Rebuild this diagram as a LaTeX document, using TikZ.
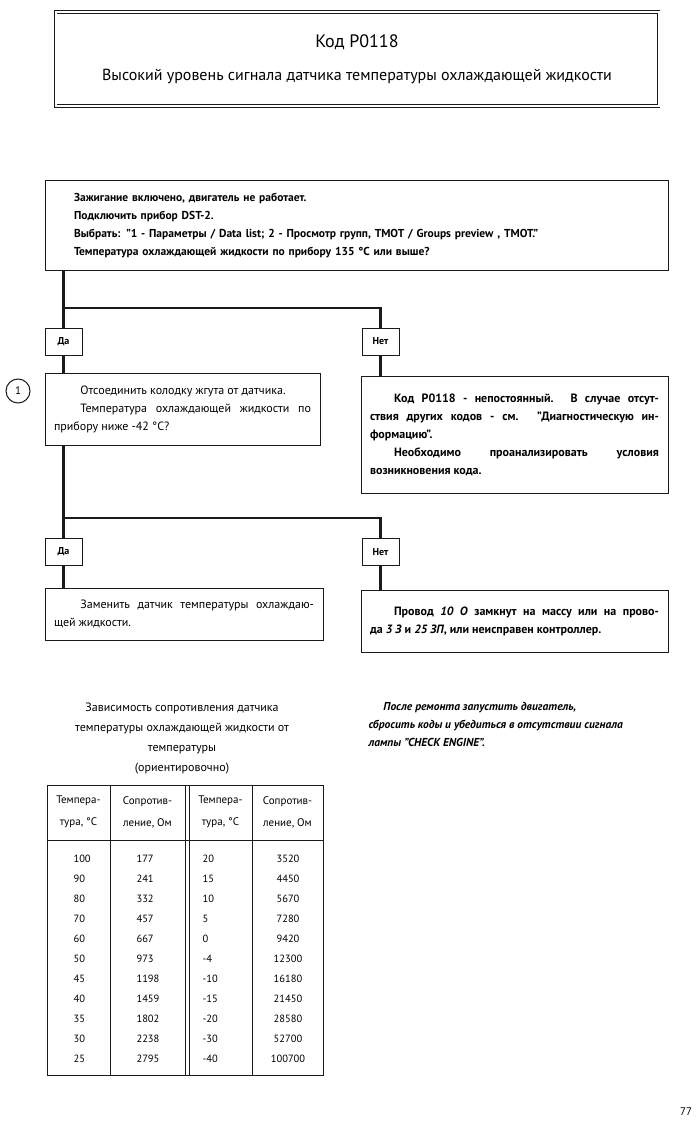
\documentclass[tikz,border=0pt]{standalone}
\usepackage{fontspec}
\setmainfont{PT Sans}
\usetikzlibrary{positioning}
\definecolor{InkBlack}{HTML}{1A1A1A}

\begin{document}
\begin{tikzpicture}[
  x=1pt,y=-1pt,
  stepbox/.style={draw=InkBlack,line width=0.9pt,inner xsep=8pt,inner ysep=0pt,
    align=justify,font=\fontsize{12}{18}\selectfont},
  answer/.style={draw=InkBlack,line width=1pt,minimum width=37pt,minimum height=27pt,
    inner sep=0pt,font=\fontsize{10}{11}\selectfont\bfseries},
  link/.style={line width=2.6pt,color=InkBlack},
  grid/.style={line width=0.8pt,color=InkBlack},
  headcell/.style={align=center,font=\fontsize{11}{22}\selectfont},
  cell/.style={anchor=base west,font=\fontsize{10.5}{12}\selectfont}
]
  \useasboundingbox (0,0) rectangle (699,1126);

  % title frame
  \node[draw=InkBlack,double,double distance=2pt,line width=0.6pt,
    minimum width=603pt,minimum height=94pt,align=center,
    font=\fontsize{16}{33}\selectfont] (title) at (357,59)
    {{\fontsize{18}{18}\selectfont Код P0118}\\Высокий уровень сигнала датчика температуры охлаждающей жидкости};

  \node[stepbox,font=\fontsize{11.5}{18}\selectfont\bfseries,align=left,inner xsep=29pt,
    minimum width=623pt,minimum height=90pt,text width=565pt] (check) at (356.5,225)
    {Зажигание включено, двигатель не работает.\\
     Подключить прибор DST-2.\\
     Выбрать: "1 - Параметры / Data list; 2 - Просмотр групп, TMOT / Groups preview , TMOT."\\
     Температура охлаждающей жидкости по прибору 135 °С или выше?};

  \node[answer] (yes1) at (63.5,341.5) {Да};
  \node[answer] (no1) at (380.5,341.5) {Нет};
  \coordinate (split1) at (63.5,308);

  \node[draw=InkBlack,circle,line width=1pt,minimum size=24pt,inner sep=0pt,
    font=\fontsize{11}{12}\selectfont] (stepone) at (18,391) {1};
  \node[stepbox,minimum width=275pt,minimum height=72pt,text width=257pt] (unplug) at (182.5,409)
    {\hspace*{2.2em}Отсоединить колодку жгута от датчика.\par
     \hspace*{2.2em}Температура охлаждающей жидкости по\linebreak
     прибору ниже -42 °С?};
  \node[stepbox,font=\fontsize{12}{18}\selectfont\bfseries,
    minimum width=307pt,minimum height=117pt,text width=289pt] (sporadic) at (514.5,434.5)
    {\hspace*{2em}Код P0118 - непостоянный. В случае отсут-\linebreak
     ствия других кодов - см. "Диагностическую ин-\linebreak
     формацию".\par
     \hspace*{2em}Необходимо проанализировать условия\linebreak
     возникновения кода.};

  \node[answer] (yes2) at (63.5,552) {Да};
  \node[answer] (no2) at (380.5,552) {Нет};
  \coordinate (split2) at (63.5,518);

  \node[stepbox,minimum width=278pt,minimum height=52pt,text width=260pt] (replace) at (184,614)
    {\hspace*{2.2em}Заменить датчик температуры охлаждаю-\linebreak
     щей жидкости.};
  \node[stepbox,font=\fontsize{12}{18}\selectfont\bfseries,
    minimum width=307pt,minimum height=62pt,text width=289pt] (wiring) at (514.5,621)
    {\hspace*{2em}Провод \textit{10 О} замкнут на массу или на прово-\linebreak
     да \textit{3 З} и \textit{25 ЗП}, или неисправен контроллер.};

  \draw[link] (check.south -| yes1) -- (yes1);
  \draw[link] (split1) -| (no1);
  \draw[link] (yes1) -- (yes1 |- unplug.north);
  \draw[link] (no1) -- (no1 |- sporadic.north);
  \draw[link] (unplug.south -| yes2) -- (yes2);
  \draw[link] (split2) -| (no2);
  \draw[link] (yes2) -- (yes2 |- replace.north);
  \draw[link] (no2) -- (no2 |- wiring.north);

  % caption and note
  \node[align=center,font=\fontsize{12}{20}\selectfont,anchor=base] (caption) at (182,771)
    {Зависимость сопротивления датчика\\
     температуры охлаждающей жидкости от\\
     температуры\\
     (ориентировочно)};
  \node[align=left,font=\fontsize{11.5}{18}\selectfont\bfseries\itshape,anchor=base west] (note) at (365,746)
    {\hspace*{1.3em}После ремонта запустить двигатель,\\
     сбросить коды и убедиться в отсутствии сигнала\\
     лампы "CHECK ENGINE".};

  % resistance table
  \draw[grid] (47,785) rectangle (323,1075);
  \draw[grid] (47,840) -- (323,840);
  \foreach \colx in {110,185,189,252}
    \draw[grid] (\colx,785) -- (\colx,1075);
  \node[headcell] (headtempa) at (78.5,812) {Темпера-\\тура, °C};
  \node[headcell] (headresa) at (147.5,812) {Сопротив-\\ление, Ом};
  \node[headcell] (headtempb) at (220.5,812) {Темпера-\\тура, °C};
  \node[headcell] (headresb) at (287.5,812) {Сопротив-\\ление, Ом};
  \foreach \ta/\ra/\tb/\rb [count=\i from 0] in
    {100/177/20/3520, 90/241/15/4450, 80/332/10/5670, 70/457/5/7280,
     60/667/0/9420, 50/973/-4/12300, 45/1198/-10/16180, 40/1459/-15/21450,
     35/1802/-20/28580, 30/2238/-30/52700, 25/2795/-40/100700} {
    \node[cell] at (70,{862+20*\i}) {\ta};
    \node[cell] at (133,{862+20*\i}) {\ra};
    \node[cell] at (199,{862+20*\i}) {\tb};
    \node[cell,anchor=base] at (288,{862+20*\i}) {\rb};
  }

  \node[font=\fontsize{11}{12}\selectfont] (pagenum) at (686,1112) {77};
\end{tikzpicture}
\end{document}
